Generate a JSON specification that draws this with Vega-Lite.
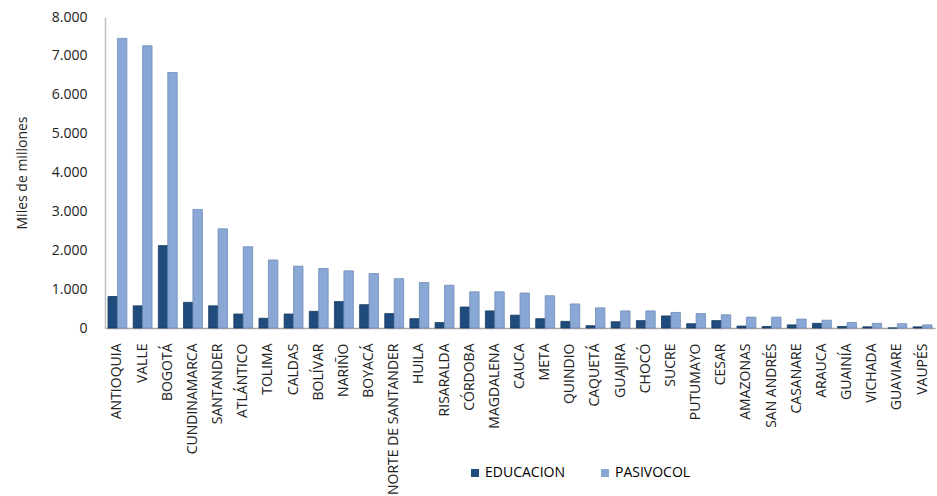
{
  "$schema": "https://vega.github.io/schema/vega-lite/v6.json",
  "autosize": "none",
  "width": 830,
  "height": 311,
  "padding": {"left": 105, "top": 17, "right": 2, "bottom": 168},
  "background": "white",
  "config": {
    "font": "Open Sans",
    "view": {"stroke": null},
    "axis": {"labelFont": "Open Sans", "titleFont": "Open Sans", "labelColor": "#222222", "titleColor": "#222222"}
  },
  "data": {
    "values": [
      {"departamento": "ANTIOQUIA", "serie": "EDUCACION", "valor": 810},
      {"departamento": "ANTIOQUIA", "serie": "PASIVOCOL", "valor": 7450},
      {"departamento": "VALLE", "serie": "EDUCACION", "valor": 570},
      {"departamento": "VALLE", "serie": "PASIVOCOL", "valor": 7260},
      {"departamento": "BOGOTÁ", "serie": "EDUCACION", "valor": 2120},
      {"departamento": "BOGOTÁ", "serie": "PASIVOCOL", "valor": 6570},
      {"departamento": "CUNDINAMARCA", "serie": "EDUCACION", "valor": 660},
      {"departamento": "CUNDINAMARCA", "serie": "PASIVOCOL", "valor": 3050},
      {"departamento": "SANTANDER", "serie": "EDUCACION", "valor": 570},
      {"departamento": "SANTANDER", "serie": "PASIVOCOL", "valor": 2550},
      {"departamento": "ATLÁNTICO", "serie": "EDUCACION", "valor": 360},
      {"departamento": "ATLÁNTICO", "serie": "PASIVOCOL", "valor": 2090},
      {"departamento": "TOLIMA", "serie": "EDUCACION", "valor": 250},
      {"departamento": "TOLIMA", "serie": "PASIVOCOL", "valor": 1750},
      {"departamento": "CALDAS", "serie": "EDUCACION", "valor": 360},
      {"departamento": "CALDAS", "serie": "PASIVOCOL", "valor": 1590},
      {"departamento": "BOLÍVAR", "serie": "EDUCACION", "valor": 430},
      {"departamento": "BOLÍVAR", "serie": "PASIVOCOL", "valor": 1530},
      {"departamento": "NARIÑO", "serie": "EDUCACION", "valor": 680},
      {"departamento": "NARIÑO", "serie": "PASIVOCOL", "valor": 1470},
      {"departamento": "BOYACÁ", "serie": "EDUCACION", "valor": 600},
      {"departamento": "BOYACÁ", "serie": "PASIVOCOL", "valor": 1400},
      {"departamento": "NORTE DE SANTANDER", "serie": "EDUCACION", "valor": 370},
      {"departamento": "NORTE DE SANTANDER", "serie": "PASIVOCOL", "valor": 1270},
      {"departamento": "HUILA", "serie": "EDUCACION", "valor": 240},
      {"departamento": "HUILA", "serie": "PASIVOCOL", "valor": 1170},
      {"departamento": "RISARALDA", "serie": "EDUCACION", "valor": 140},
      {"departamento": "RISARALDA", "serie": "PASIVOCOL", "valor": 1100},
      {"departamento": "CÓRDOBA", "serie": "EDUCACION", "valor": 540},
      {"departamento": "CÓRDOBA", "serie": "PASIVOCOL", "valor": 930},
      {"departamento": "MAGDALENA", "serie": "EDUCACION", "valor": 440},
      {"departamento": "MAGDALENA", "serie": "PASIVOCOL", "valor": 930},
      {"departamento": "CAUCA", "serie": "EDUCACION", "valor": 330},
      {"departamento": "CAUCA", "serie": "PASIVOCOL", "valor": 900},
      {"departamento": "META", "serie": "EDUCACION", "valor": 240},
      {"departamento": "META", "serie": "PASIVOCOL", "valor": 830},
      {"departamento": "QUINDIO", "serie": "EDUCACION", "valor": 170},
      {"departamento": "QUINDIO", "serie": "PASIVOCOL", "valor": 620},
      {"departamento": "CAQUETÁ", "serie": "EDUCACION", "valor": 60},
      {"departamento": "CAQUETÁ", "serie": "PASIVOCOL", "valor": 520},
      {"departamento": "GUAJIRA", "serie": "EDUCACION", "valor": 160},
      {"departamento": "GUAJIRA", "serie": "PASIVOCOL", "valor": 440},
      {"departamento": "CHOCÓ", "serie": "EDUCACION", "valor": 190},
      {"departamento": "CHOCÓ", "serie": "PASIVOCOL", "valor": 440},
      {"departamento": "SUCRE", "serie": "EDUCACION", "valor": 310},
      {"departamento": "SUCRE", "serie": "PASIVOCOL", "valor": 400},
      {"departamento": "PUTUMAYO", "serie": "EDUCACION", "valor": 110},
      {"departamento": "PUTUMAYO", "serie": "PASIVOCOL", "valor": 370},
      {"departamento": "CESAR", "serie": "EDUCACION", "valor": 190},
      {"departamento": "CESAR", "serie": "PASIVOCOL", "valor": 340},
      {"departamento": "AMAZONAS", "serie": "EDUCACION", "valor": 50},
      {"departamento": "AMAZONAS", "serie": "PASIVOCOL", "valor": 280},
      {"departamento": "SAN ANDRÉS", "serie": "EDUCACION", "valor": 40},
      {"departamento": "SAN ANDRÉS", "serie": "PASIVOCOL", "valor": 280},
      {"departamento": "CASANARE", "serie": "EDUCACION", "valor": 80},
      {"departamento": "CASANARE", "serie": "PASIVOCOL", "valor": 230},
      {"departamento": "ARAUCA", "serie": "EDUCACION", "valor": 120},
      {"departamento": "ARAUCA", "serie": "PASIVOCOL", "valor": 200},
      {"departamento": "GUAINÍA", "serie": "EDUCACION", "valor": 40},
      {"departamento": "GUAINÍA", "serie": "PASIVOCOL", "valor": 140},
      {"departamento": "VICHADA", "serie": "EDUCACION", "valor": 30},
      {"departamento": "VICHADA", "serie": "PASIVOCOL", "valor": 120},
      {"departamento": "GUAVIARE", "serie": "EDUCACION", "valor": 0},
      {"departamento": "GUAVIARE", "serie": "PASIVOCOL", "valor": 110},
      {"departamento": "VAUPÉS", "serie": "EDUCACION", "valor": 30},
      {"departamento": "VAUPÉS", "serie": "PASIVOCOL", "valor": 80}
    ]
  },
  "mark": {"type": "bar", "strokeWidth": 0.8},
  "encoding": {
    "x": {
      "field": "departamento",
      "type": "nominal",
      "sort": null,
      "scale": {"paddingInner": 0.25, "paddingOuter": 0.12},
      "axis": {
        "title": null,
        "labelAngle": -90,
        "labelFontSize": 14,
        "labelPadding": 15,
        "ticks": false,
        "domainColor": "#a6a6a6",
        "domainWidth": 1.5,
        "labelOverlap": false
      }
    },
    "xOffset": {"field": "serie", "type": "nominal", "sort": ["EDUCACION", "PASIVOCOL"]},
    "y": {
      "field": "valor",
      "type": "quantitative",
      "scale": {"domain": [0, 8000], "nice": false},
      "axis": {
        "title": "Miles de millones",
        "titleFontSize": 14,
        "titleFontWeight": "normal",
        "titlePadding": 22,
        "values": [0, 1000, 2000, 3000, 4000, 5000, 6000, 7000, 8000],
        "labelExpr": "replace(format(datum.value, ','), ',', '.')",
        "labelFontSize": 14,
        "labelPadding": 18,
        "ticks": false,
        "grid": false,
        "domainColor": "#bfbfbf",
        "domainWidth": 1.5
      }
    },
    "color": {
      "field": "serie",
      "type": "nominal",
      "scale": {"domain": ["EDUCACION", "PASIVOCOL"], "range": ["#1f4c7c", "#8aa8d5"]},
      "legend": {
        "title": null,
        "orient": "none",
        "direction": "horizontal",
        "legendX": 363,
        "legendY": 449,
        "symbolType": "square",
        "symbolSize": 64,
        "symbolStrokeWidth": 0,
        "labelFontSize": 14,
        "labelOffset": 3,
        "columnPadding": 33
      }
    },
    "stroke": {
      "field": "serie",
      "type": "nominal",
      "scale": {"domain": ["EDUCACION", "PASIVOCOL"], "range": ["#163a60", "#6f8cb8"]},
      "legend": null
    }
  }
}
